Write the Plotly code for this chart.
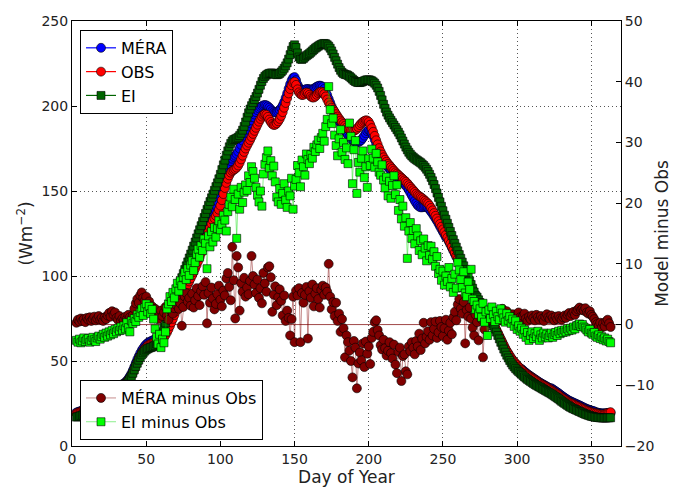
import plotly.graph_objects as go

# Day of year (centre of each plotted value)
days = list(range(3, 364))

# Left axis series (W m-2)
obs = [
    19.2, 19.5, 19.8, 20.1, 20.5, 20.8, 21.2, 21.6, 22.0, 22.5,
    23.0, 23.4, 23.9, 24.5, 25.0, 25.6, 26.2, 26.9, 27.5, 28.2,
    28.9, 29.6, 30.3, 31.0, 31.8, 32.5, 33.2, 33.9, 34.5, 35.0,
    35.4, 35.8, 36.3, 36.9, 37.6, 38.6, 39.8, 41.2, 43.0, 45.0,
    47.2, 49.3, 51.2, 53.0, 54.6, 56.0, 57.2, 58.2, 59.0, 59.6,
    60.0, 60.4, 60.8, 61.2, 61.6, 62.0, 62.4, 62.8, 63.3, 64.0,
    65.2, 66.8, 68.6, 70.6, 72.7, 74.8, 77.0, 79.2, 81.4, 83.6,
    85.8, 87.8, 89.6, 91.4, 93.2, 95.0, 96.8, 98.6, 100.5, 102.4,
    104.4, 106.5, 108.7, 111.0, 113.4, 115.9, 118.4, 121.0, 123.6, 126.2,
    128.6, 130.8, 132.6, 134.0, 135.4, 137.0, 139.0, 141.4, 144.6, 148.2,
    151.8, 154.8, 157.2, 159.2, 160.8, 161.8, 162.4, 163.0, 163.8, 165.0,
    166.6, 168.6, 170.8, 173.0, 175.0, 176.8, 178.4, 180.0, 181.8, 183.6,
    185.4, 187.2, 189.0, 190.8, 192.4, 193.8, 194.8, 195.2, 194.8, 193.6,
    192.0, 190.6, 189.4, 188.8, 189.0, 189.8, 191.0, 192.4, 194.2, 196.4,
    199.0, 201.8, 204.6, 207.4, 210.0, 212.2, 213.8, 214.2, 212.4, 209.8,
    208.0, 207.0, 206.4, 206.6, 207.4, 208.0, 207.6, 206.6, 205.6, 205.0,
    205.0, 205.6, 206.6, 207.6, 208.2, 208.4, 208.0, 207.0, 205.6, 203.8,
    202.0, 200.4, 199.0, 197.8, 196.6, 195.2, 193.8, 192.6, 191.4, 190.4,
    189.4, 188.4, 187.4, 186.6, 186.0, 185.6, 185.4, 185.4, 185.8, 186.6,
    187.6, 188.8, 189.8, 190.6, 191.2, 191.6, 191.4, 190.6, 189.0, 187.0,
    184.8, 182.4, 179.8, 177.4, 175.2, 173.2, 171.4, 169.8, 168.4, 167.2,
    166.0, 165.0, 164.0, 163.0, 162.0, 161.0, 160.2, 159.4, 158.6, 157.8,
    157.0, 156.2, 155.4, 154.4, 153.4, 152.4, 151.4, 150.4, 149.4, 148.4,
    147.6, 147.0, 146.4, 145.8, 145.0, 144.2, 143.4, 142.6, 141.4, 140.0,
    138.6, 137.0, 135.4, 133.8, 132.2, 130.6, 129.0, 127.4, 125.8, 124.2,
    122.6, 120.8, 119.0, 117.2, 115.4, 113.6, 111.8, 110.0, 108.2, 106.4,
    104.6, 102.8, 101.0, 99.2, 97.4, 95.6, 93.8, 92.0, 90.2, 88.4,
    86.8, 85.2, 83.6, 82.2, 80.8, 79.4, 78.0, 76.8, 75.6, 74.4,
    73.0, 71.6, 70.0, 68.4, 66.6, 64.8, 63.0, 61.2, 59.4, 57.6,
    56.0, 54.6, 53.2, 51.8, 50.6, 49.6, 48.6, 47.6, 46.6, 45.7,
    44.8, 44.0, 43.2, 42.5, 41.8, 41.2, 40.6, 40.0, 39.4, 38.8,
    38.2, 37.6, 37.0, 36.5, 36.0, 35.5, 35.0, 34.5, 34.0, 33.5,
    33.0, 32.4, 31.8, 31.2, 30.6, 30.0, 29.3, 28.6, 28.0, 27.4,
    26.8, 26.2, 25.7, 25.3, 24.9, 24.5, 24.1, 23.7, 23.3, 22.9,
    22.5, 22.0, 21.6, 21.2, 20.8, 20.5, 20.2, 19.9, 19.6, 19.4,
    19.2, 19.0, 18.8, 18.6, 18.5, 18.5, 18.7, 19.0, 19.3, 19.6,
    19.9,
]

mera = [
    19.7, 20.0, 20.3, 20.6, 21.0, 21.3, 21.7, 22.1, 22.5, 23.0,
    23.5, 23.9, 24.4, 25.0, 25.5, 26.1, 26.7, 27.4, 28.0, 28.7,
    29.4, 30.1, 30.8, 31.5, 32.3, 33.0, 33.7, 34.4, 35.0, 35.5,
    35.9, 36.3, 36.8, 37.5, 38.4, 39.6, 41.0, 42.6, 44.5, 46.6,
    48.8, 50.9, 52.8, 54.6, 56.2, 57.6, 58.8, 59.8, 60.6, 61.2,
    61.6, 62.0, 62.4, 62.8, 63.2, 63.6, 64.0, 64.4, 64.9, 65.6,
    66.8, 68.3, 70.0, 71.9, 74.0, 76.1, 78.3, 80.5, 82.7, 84.9,
    87.1, 89.1, 90.9, 92.7, 94.5, 96.3, 98.1, 99.9, 101.8, 103.7,
    105.7, 107.9, 110.2, 112.6, 115.1, 117.7, 120.3, 122.9, 125.5, 128.1,
    130.5, 132.8, 134.8, 136.6, 138.4, 140.4, 142.8, 145.8, 149.6, 153.6,
    157.4, 160.8, 163.6, 165.8, 167.6, 169.0, 170.0, 170.8, 171.8, 173.2,
    175.0, 177.2, 179.6, 182.0, 184.2, 186.2, 188.0, 189.8, 191.6, 193.4,
    195.0, 196.4, 197.6, 198.6, 199.4, 200.0, 200.4, 200.6, 200.4, 199.8,
    199.0, 198.0, 197.0, 196.4, 196.2, 196.4, 196.8, 197.6, 198.8, 200.4,
    202.4, 204.8, 207.4, 210.2, 212.8, 215.0, 216.6, 217.0, 215.2, 212.6,
    210.8, 209.8, 209.2, 209.2, 209.6, 210.0, 210.0, 209.8, 209.6, 209.8,
    210.2, 210.8, 211.4, 211.8, 212.0, 211.8, 211.2, 210.0, 208.4, 206.4,
    204.2, 202.0, 199.8, 197.8, 196.0, 194.4, 192.8, 191.2, 189.8, 188.4,
    187.0, 185.6, 184.2, 183.0, 181.8, 180.8, 180.0, 179.4, 179.0, 178.8,
    178.8, 179.2, 180.0, 181.2, 182.6, 184.0, 185.2, 185.8, 185.4, 184.2,
    182.4, 180.2, 177.8, 175.4, 173.2, 171.2, 169.4, 167.8, 166.4, 165.2,
    164.0, 163.0, 162.0, 161.0, 160.0, 159.0, 158.2, 157.4, 156.6, 155.8,
    155.0, 154.2, 153.2, 152.0, 150.6, 149.0, 147.4, 145.8, 144.2, 142.8,
    141.6, 140.8, 140.4, 140.4, 140.6, 140.8, 140.6, 140.0, 139.0, 137.8,
    136.6, 135.2, 133.8, 132.4, 130.8, 129.2, 127.6, 126.0, 124.4, 122.8,
    122.1, 120.3, 118.5, 116.7, 114.9, 113.1, 111.3, 109.5, 107.7, 105.9,
    104.1, 102.3, 100.5, 98.7, 96.9, 95.1, 93.3, 91.5, 89.7, 87.9,
    86.3, 84.7, 83.1, 81.7, 80.3, 78.9, 77.5, 76.3, 75.1, 73.9,
    72.5, 71.1, 69.5, 67.9, 66.1, 64.3, 62.5, 60.7, 58.9, 57.1,
    55.5, 54.1, 52.7, 51.3, 50.1, 49.1, 48.1, 47.1, 46.1, 45.2,
    45.3, 44.5, 43.7, 43.0, 42.3, 41.7, 41.1, 40.5, 39.9, 39.3,
    38.7, 38.1, 37.5, 37.0, 36.5, 36.0, 35.5, 35.0, 34.5, 34.0,
    34.0, 33.4, 32.8, 32.2, 31.6, 31.0, 30.3, 29.6, 29.0, 28.4,
    27.8, 27.2, 26.7, 26.3, 25.9, 25.5, 25.1, 24.7, 24.3, 23.9,
    23.5, 23.0, 22.6, 22.2, 21.8, 21.5, 21.2, 20.9, 20.6, 20.4,
    19.9, 19.7, 19.5, 19.3, 19.2, 19.2, 19.2, 19.3, 19.4, 19.4,
    19.5,
]

ei = [
    17.0, 17.2, 17.5, 17.8, 18.2, 18.6, 19.0, 19.5, 20.0, 20.5,
    21.0, 21.6, 22.2, 22.8, 23.4, 24.0, 24.7, 25.4, 26.1, 26.8,
    27.5, 28.2, 28.9, 29.6, 30.3, 31.0, 31.7, 32.4, 33.0, 33.6,
    34.1, 34.6, 35.2, 35.9, 36.8, 38.0, 39.4, 41.0, 42.8, 44.8,
    46.8, 48.7, 50.5, 52.1, 53.6, 54.8, 55.8, 56.6, 57.2, 57.6,
    57.9, 58.2, 58.6, 59.2, 60.0, 61.2, 62.8, 64.8, 67.2, 69.8,
    72.4, 75.0, 77.4, 79.8, 82.2, 84.6, 87.0, 89.4, 91.8, 94.2,
    96.6, 99.0, 101.4, 103.8, 106.0, 108.3, 110.6, 112.9, 115.2, 117.6,
    120.0, 122.4, 124.8, 127.2, 129.6, 132.0, 134.4, 136.8, 139.2, 141.6,
    143.8, 146.0, 148.2, 150.4, 152.6, 154.8, 157.2, 159.8, 162.6, 165.4,
    168.2, 171.0, 173.6, 176.0, 178.0, 179.4, 180.2, 180.6, 181.0, 181.6,
    182.6, 184.0, 185.8, 188.0, 190.6, 193.4, 196.0, 198.2, 200.2, 202.0,
    203.8, 205.6, 207.6, 209.8, 212.2, 214.4, 216.2, 217.4, 218.2, 218.8,
    219.2, 219.4, 219.4, 219.0, 218.6, 218.4, 218.6, 219.2, 220.0, 221.0,
    222.2, 223.6, 225.4, 227.6, 230.2, 232.8, 235.0, 236.0, 234.4, 231.2,
    228.8, 227.6, 227.4, 228.0, 228.8, 229.6, 230.2, 230.8, 231.6, 232.4,
    233.2, 234.0, 234.6, 235.2, 235.8, 236.2, 236.6, 236.8, 236.6, 236.0,
    235.2, 234.0, 232.4, 230.6, 228.6, 226.6, 224.6, 222.6, 221.0, 219.8,
    219.0, 218.6, 218.4, 218.0, 217.4, 216.6, 215.8, 215.0, 214.4, 214.0,
    213.8, 213.8, 214.0, 214.4, 214.8, 215.2, 215.4, 215.4, 215.2, 214.8,
    214.2, 213.4, 212.2, 210.6, 208.6, 206.2, 203.6, 201.0, 198.6, 196.4,
    194.6, 193.0, 191.6, 190.2, 188.8, 187.4, 186.0, 184.6, 183.0, 181.2,
    179.4, 177.6, 175.8, 174.2, 172.8, 171.6, 170.6, 169.8, 169.0, 168.4,
    167.8, 167.2, 166.6, 165.8, 165.0, 164.0, 162.8, 161.4, 159.8, 158.0,
    156.0, 153.8, 151.4, 148.8, 146.2, 143.6, 141.0, 138.4, 135.8, 133.4,
    131.0, 128.6, 126.2, 123.8, 121.4, 119.2, 117.0, 114.8, 112.6, 110.4,
    108.2, 106.0, 103.8, 101.6, 99.4, 97.2, 95.0, 92.8, 90.6, 88.4,
    87.6, 86.0, 84.4, 82.8, 81.2, 79.6, 78.2, 76.8, 75.4, 73.8,
    72.2, 70.6, 68.8, 67.0, 65.0, 63.0, 61.0, 59.0, 57.0, 55.2,
    53.4, 51.8, 50.3, 48.9, 47.6, 46.5, 45.5, 44.6, 43.8, 43.0,
    42.2, 41.4, 40.6, 39.9, 39.2, 38.6, 38.0, 37.4, 36.8, 36.2,
    35.7, 35.2, 34.7, 34.2, 33.7, 33.2, 32.7, 32.2, 31.7, 31.2,
    30.7, 30.1, 29.5, 28.9, 28.3, 27.7, 27.0, 26.3, 25.7, 25.1,
    24.5, 23.9, 23.3, 22.8, 22.3, 21.9, 21.5, 21.1, 20.7, 20.3,
    19.9, 19.5, 19.1, 18.7, 18.4, 18.1, 17.8, 17.5, 17.3, 17.1,
    16.9, 16.8, 16.7, 16.6, 16.5, 16.5, 16.5, 16.5, 16.6, 16.6,
    16.6,
]

# Right axis series (model minus obs)
mera_minus_obs = [
    0.3, 0.8, 0.5, 1.0, 0.6, 0.9, 0.4, 1.1,
    0.8, 1.2, 0.6, 0.9, 1.3, 0.7, 1.0, 1.4, 0.8, 1.1,
    0.6, 1.2, 0.9, 1.5, 1.9, 1.3, 2.2, 1.6, 2.0, 1.1,
    0.8, 1.4, 0.6, 1.0, 0.7, 1.3, 0.9, 1.6, 1.2, 0.8,
    1.5, 2.6, 3.5, 4.2, 3.6, 4.8, 5.3, 4.4, 3.9, 4.6,
    3.2, 3.8, 2.4, 3.0, 1.9, 2.6, 1.2, 0.9, 1.6, 2.3,
    1.4, 2.0, 2.9, 1.5, 0.8, 2.4, 3.1, 1.8, 2.7, 3.3,
    4.1, 2.6, 3.5, -0.2, 2.9, 4.6, 5.2, 3.8, 4.4, 3.1,
    5.1, 2.8, 4.0, 6.0, 4.7, 3.2, 5.5, 6.3, 4.9, 7.0,
    0.2, 5.2, 3.6, 6.1, 4.3, 2.5, 3.4, 5.0, 6.4, 4.1,
    3.0, 5.6, 4.8, 7.6, 8.5, 6.2, 4.0, 12.8, 7.3, 1.0,
    11.3, 9.4, 2.3, 6.8, 5.4, 7.7, 4.6, 6.1, 5.0, 7.2,
    11.3, 8.0, 6.6, 5.2, 7.4, 4.4, 6.0, 3.5, 8.5, 6.8,
    5.4, 9.4, 9.6, 7.8, 2.1, 4.9, 6.3, 3.2, 4.5, 5.8,
    3.9, 1.5, 4.8, 0.6, 2.3, 1.1, -1.8, 0.9, 4.6, -2.9,
    5.6, 4.8, 6.0, -2.9, 5.2, 3.6, 4.9, 6.2, -2.3, 5.5,
    4.4, 6.6, 3.0, 5.1, 6.0, 4.2, 2.8, 5.7, 6.4, 4.9,
    6.1, 5.4, 10.0, 4.6, 2.5, 3.7, 1.4, 3.6, 0.6, 1.8,
    -1.2, 0.9, -0.6, -5.4, -1.8, -2.9, -4.3, -6.0, -8.7, -2.7,
    -3.8, -10.5, -6.4, -4.6, -5.9, -3.1, -7.0, -2.8, -4.8, -3.6,
    -6.5, -2.2, -1.2, 0.4, 0.7, -0.9, -1.8, -3.4, -4.1, -2.5,
    -3.9, -5.1, -4.3, -2.9, -4.7, -5.6, -3.3, -6.6, -8.0, -4.5,
    -3.8, -9.3, -5.2, -4.9, -7.7, -8.2, -3.6, -4.4, -2.9, -3.8,
    -4.9, -2.7, -3.6, -1.5, -4.2, -2.3, 0.3, -3.1, -2.0, -1.1,
    -2.5, 0.4, -1.8, -0.7, 0.5, -2.2, -1.3, 0.6, -0.4, -1.9,
    -0.6, 0.8, -2.5, -1.0, 0.3, -1.6, 1.2, 2.1, 0.7, 3.3,
    4.2, 2.6, 1.8, 3.7, -3.1, 2.4, 1.3, 2.8, 1.0, -0.5,
    -1.8, 1.6, 0.4, -2.6, 2.2, 0.9, -5.4, -0.8, 1.4, 0.6,
    1.9, 0.8, 2.4, 1.5, 0.9, 2.1, 1.2, 0.7, 1.8, 2.6,
    1.4, 0.9, 2.2, 1.6, 1.1, 0.8, 1.7, 1.3, 0.9, 1.5,
    2.0, 1.2, 0.7, 1.4, 1.8, 1.0, 0.6, 1.3, 0.9, 1.5,
    1.1, 0.7, 1.6, 1.2, 0.8, 1.4, 1.0, 0.6, 1.3, 1.7,
    1.2, 0.9, 1.5, 1.1, 0.7, 1.3, 0.9, 1.4, 1.0, 0.8,
    1.2, 1.5, 1.1, 1.6, 1.9, 1.4, 1.8, 2.1, 1.6, 2.2,
    2.5, 2.8, 2.4, 2.6, 2.3, 2.7, 2.0, 1.8, 2.2, 1.6,
    1.3, 0.9, 0.4, 0.1, -0.2, 0.3, -0.5, 0.2, -0.3, 0.5,
    0.8, 0.2, -0.4,
]

ei_minus_obs = [
    -2.6, -2.9, -2.4, -3.0, -2.7, -2.2, -2.8, -2.5,
    -2.3, -2.9, -2.6, -2.1, -2.5, -2.8, -2.2, -1.9, -2.4, -2.0,
    -1.6, -2.1, -1.4, -1.9, -1.2, -1.7, -1.0, -1.5, -0.8, -1.2,
    -0.6, -1.0, -0.4, -0.9, -0.2, -0.7, 0.3, -0.5, -1.2, 0.6,
    0.2, 1.0, 0.5, 1.6, 1.2, 2.0, 2.6, 1.5, 2.8, 3.4,
    2.1, 3.0, 1.8, 2.5, 0.9, -0.7, -2.1, -3.2, -1.6, -3.8,
    -2.4, -3.0, -1.2, 2.6, 3.4, 4.6, 3.8, 5.3, 4.4, 5.9,
    6.8, 5.5, 7.2, 6.4, 7.8, 8.6, 7.4, 9.2, 8.1, 9.8,
    10.5, 8.9, 10.2, 11.6, 12.4, 11.1, 13.0, 12.2, 14.1, 13.4,
    9.2, 14.6, 12.8, 15.3, 13.6, 16.0, 14.4, 15.8, 17.1, 15.6,
    16.5, 18.0, 17.2, 15.4, 18.6, 19.8, 21.0, 19.4, 22.3, 20.6,
    14.2, 21.5, 19.0, 22.6, 20.1, 21.8, 23.0, 22.1, 24.5, 23.4,
    26.0, 25.2, 24.1, 22.6, 21.3, 20.2, 22.0, 19.5, 24.8, 26.4,
    27.5, 28.6, 25.8, 27.0, 24.5, 26.1, 23.5, 21.0, 20.2, 22.4,
    19.8, 21.6, 23.2, 20.5, 19.3, 22.0, 21.2, 24.1, 19.0, 22.8,
    23.9, 26.2, 25.0, 22.7, 27.1, 26.0, 24.6, 28.1, 27.2, 26.5,
    28.0, 27.4, 29.2, 28.5, 29.6, 30.4, 29.0, 30.8, 31.5, 30.2,
    32.6, 33.8, 39.2, 35.4, 33.1, 34.0, 31.2, 29.5, 27.8, 30.6,
    32.1, 28.4, 30.0, 27.2, 29.1, 26.5, 33.2, 31.0, 23.2, 28.8,
    30.3, 21.6, 26.7, 25.1, 27.4, 28.6, 24.2, 26.0, 22.6, 27.3,
    26.2, 28.9, 27.4, 25.9, 28.2, 26.8, 25.1, 24.6, 26.3, 23.8,
    22.5, 24.3, 21.2, 23.6, 20.8, 22.9, 24.5, 21.4, 23.0, 18.8,
    20.6, 17.4, 19.5, 16.2, 17.6, 10.9, 15.4, 16.8, 14.2, 15.5,
    13.3, 15.8, 14.6, 12.2, 13.8, 11.5, 14.1, 12.6, 10.5, 13.0,
    11.4, 12.9, 10.8, 12.0, 9.6, 11.2, 8.4, 9.1, 7.3, 8.8,
    6.5, 8.0, 7.1, 9.4, 6.2, 7.6, 5.3, 8.3, 6.0, 10.2,
    9.0, 7.4, 6.1, 8.7, 5.2, 4.6, 7.0, 5.8, 9.1, 4.2,
    3.8, 2.5, 3.2, 1.7, 2.6, 1.2, 3.5, 0.4, 2.1, -1.8,
    2.4, 1.0, 2.9, 1.6, 0.5, 2.2, 1.3, 0.8, 2.6, 1.9,
    1.1, 0.4, 1.8, 0.7, 1.3, 0.2, 0.9, -0.3, 0.6, -0.8,
    -0.2, -1.1, -0.6, -1.6, -0.9, -2.1, -1.3, -2.6, -1.8, -1.2,
    -2.3, -1.5, -2.0, -1.1, -2.6, -1.7, -2.2, -1.4, -2.0, -1.6,
    -2.2, -1.8, -1.4, -2.1, -1.6, -1.3, -1.8, -1.1, -1.5, -1.0,
    -1.3, -0.9, -1.2, -0.7, -1.0, -0.6, -0.9, -0.4, -0.7, -0.2,
    -0.1, 0.1, -0.3, 0.0, -0.4, -0.6, -0.9, -1.2, -0.8, -1.4,
    -1.6, -1.3, -1.9, -2.1, -1.7, -2.3, -2.0, -2.5, -2.2, -2.7,
    -2.4, -2.8, -3.0,
]

x_ticks = [0, 50, 100, 150, 200, 250, 300, 350]
y_ticks = [0, 50, 100, 150, 200, 250]
y2_ticks = [-20, -10, 0, 10, 20, 30, 40, 50]

FONT = "DejaVu Sans"


def xs(series):
    return days[:len(series)]


fig = go.Figure()

edge = dict(color="black", width=0.6)
MS = 9

fig.add_trace(go.Scatter(
    x=xs(mera), y=mera, name="MÉRA", mode="lines+markers",
    line=dict(color="#0000ff", width=1.2),
    marker=dict(symbol="circle", size=MS, color="#0000ff", line=edge),
    legend="legend"))
fig.add_trace(go.Scatter(
    x=xs(obs), y=obs, name="OBS", mode="lines+markers",
    line=dict(color="#ff0000", width=1.2),
    marker=dict(symbol="circle", size=MS, color="#ff0000", line=edge),
    legend="legend"))
fig.add_trace(go.Scatter(
    x=xs(ei), y=ei, name="EI", mode="lines+markers",
    line=dict(color="#006400", width=1.2),
    marker=dict(symbol="square", size=MS - 1, color="#006400", line=edge),
    legend="legend"))

fig.add_trace(go.Scatter(
    x=xs(mera_minus_obs), y=mera_minus_obs, name="MÉRA minus Obs",
    mode="lines+markers", yaxis="y2",
    line=dict(color="rgba(128,0,0,0.45)", width=1),
    marker=dict(symbol="circle", size=MS, color="#800000", line=edge),
    legend="legend2"))
fig.add_trace(go.Scatter(
    x=xs(ei_minus_obs), y=ei_minus_obs, name="EI minus Obs",
    mode="lines+markers", yaxis="y2",
    line=dict(color="rgba(0,220,0,0.45)", width=1),
    marker=dict(symbol="square", size=MS - 1, color="#00ff00", line=edge),
    legend="legend2"))

axis_common = dict(
    ticks="inside", ticklen=5, tickwidth=1, tickcolor="black",
    showline=True, linecolor="black", linewidth=1,
    zeroline=False, automargin=False,
    tickfont=dict(family=FONT, size=14, color="#222"),
)

grid = dict(showgrid=True, gridcolor="#555", griddash="1px,3px", gridwidth=1)

fig.update_layout(
    width=675, height=489, autosize=False,
    margin=dict(l=72, r=54, t=21, b=43),
    paper_bgcolor="white", plot_bgcolor="white",
    font=dict(family=FONT, color="#222"),
    xaxis=dict(
        range=[0, 370], tickvals=x_ticks, mirror="ticks",
        title=dict(text="Day of Year", font=dict(family=FONT, size=17), standoff=4),
        **grid, **axis_common),
    yaxis=dict(
        range=[0, 250], tickvals=y_ticks, mirror=True,
        title=dict(text="(Wm<sup>−2</sup>)", font=dict(family=FONT, size=17), standoff=4),
        **grid, **axis_common),
    yaxis2=dict(
        range=[-20, 50], tickvals=y2_ticks, overlaying="y", side="right",
        showgrid=False,
        title=dict(text="Model minus Obs", font=dict(family=FONT, size=17), standoff=2),
        **axis_common),
    legend=dict(
        x=0.0146, y=0.979, xanchor="left", yanchor="top",
        bgcolor="white", bordercolor="black", borderwidth=1,
        font=dict(family=FONT, size=16, color="black"),
        tracegroupgap=0, itemwidth=30),
    legend2=dict(
        x=0.0146, y=0.014, xanchor="left", yanchor="bottom",
        bgcolor="white", bordercolor="black", borderwidth=1,
        font=dict(family=FONT, size=16, color="black"),
        tracegroupgap=0, itemwidth=30),
    shapes=[dict(type="line", xref="paper", x0=0, x1=1, yref="y2", y0=0, y1=0,
                 line=dict(color="#a04848", width=1), layer="below")],
)

fig.write_html("out.html")
